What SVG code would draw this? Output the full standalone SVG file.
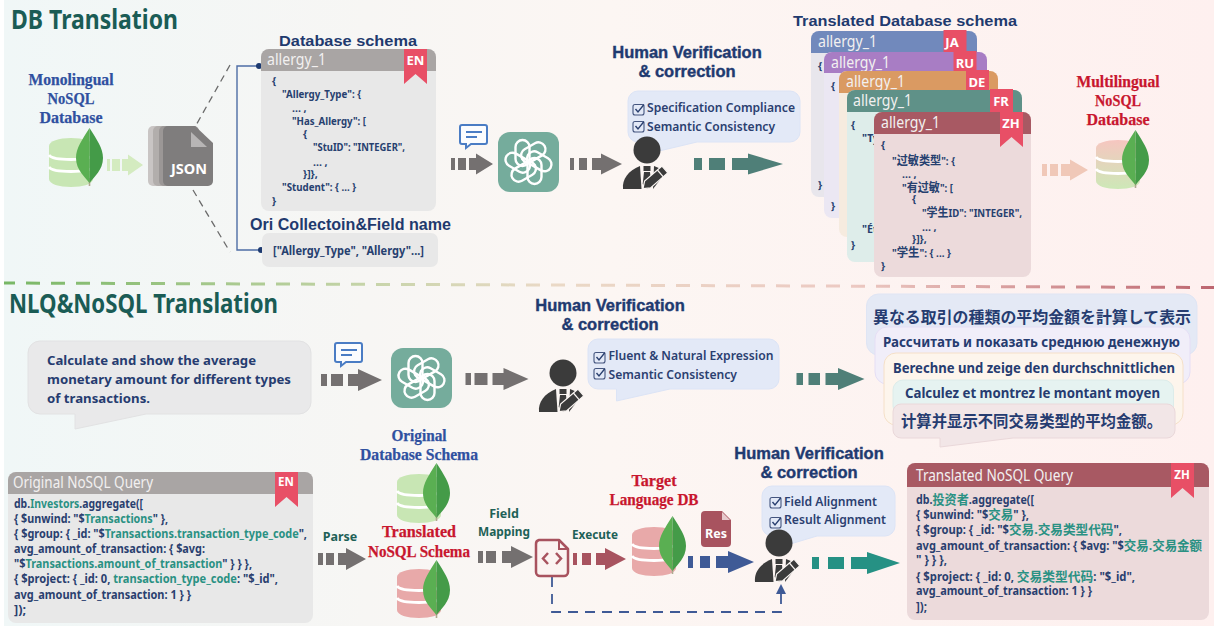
<svg xmlns="http://www.w3.org/2000/svg" width="1214" height="626" viewBox="0 0 1214 626">
<style>
text{font-family:"Noto Sans","Noto Sans CJK SC",sans-serif}
.title{font-weight:700;font-size:26px;fill:#1a5c55}
.serif{font-family:"Liberation Serif",serif;font-weight:700;font-size:16.5px;text-anchor:middle;stroke-width:.25px}
.blue{fill:#2f50a0;stroke:#2f50a0}.red{fill:#c8162e;stroke:#c8162e}
.hv{font-family:"Liberation Sans",sans-serif;font-weight:700;font-size:16.5px;fill:#1f3a70;stroke:#1f3a70;stroke-width:.4px;text-anchor:middle}
.head{font-family:"Liberation Sans",sans-serif;font-weight:700;fill:#1f3a6e}
.code{font-weight:700;font-size:10.5px;fill:#26406f}
.q{font-weight:700;font-size:11.5px;fill:#2a3f6f}
.t{fill:#2a9183}
.z{font-size:13px}
.y{font-size:12px}
.hdr{font-size:15.5px;fill:#f2f0f0}
.rl{font-weight:700;font-size:13px;fill:#fff;text-anchor:middle}
.chk{font-weight:600;font-size:13px;fill:#2b4070}
.lab{font-weight:700;font-size:12.5px;fill:#1e6157;text-anchor:middle}
.nl{font-weight:700;font-size:13px;fill:#263c70}
.tr{font-weight:700;font-size:13.5px;fill:#263c70}
.cjk{font-family:"Noto Sans CJK JP",sans-serif;font-weight:700;font-size:16px;fill:#263c70}
.body{fill:#e8e8e8}
.bub{fill:#e3e9f7;stroke:#dce4f6;stroke-width:1}
</style>
<defs>
<linearGradient id="bg" x1="0" y1="0" x2="1" y2="0"><stop offset="0" stop-color="#f0f7f7"/><stop offset=".3" stop-color="#f7f6f4"/><stop offset=".5" stop-color="#fcf6f3"/><stop offset="1" stop-color="#fef0ef"/></linearGradient>
<linearGradient id="dv" gradientUnits="userSpaceOnUse" x1="4" y1="0" x2="1214" y2="0"><stop offset="0" stop-color="#78b765"/><stop offset=".3" stop-color="#c6d4a9"/><stop offset=".45" stop-color="#ead9c6"/><stop offset=".7" stop-color="#ecc9c2"/><stop offset="1" stop-color="#bd6670"/></linearGradient>
<linearGradient id="mix" x1="0" y1="0" x2="0" y2="1"><stop offset="0" stop-color="#f6c6c0"/><stop offset="1" stop-color="#cde8b7"/></linearGradient>
<g id="cyl"><path d="M0 8C0 3 10 0 22 0S44 3 44 8V41C44 46 34 49 22 49S0 46 0 41Z"/><path d="M0 17C4 23 40 23 44 17M0 29C4 35 40 35 44 29" fill="none" stroke="#fff" stroke-width="3"/></g>
<g id="leaf"><path d="M13.5 58V50" stroke="#b0a890" stroke-width="1.6"/><path d="M13.5 0C6 12 0 20 0 30C0 42 9 49 13.5 55Z" fill="#5aaf52"/><path d="M13.5 0C21 12 27 20 27 30C27 42 18 49 13.5 55Z" fill="#449b48"/></g>
<g id="gpt"><rect width="61" height="60" rx="12" fill="#75ac9c"/><g transform="translate(30.5 30)" fill="none" stroke="#fff" stroke-width="2.4"><rect x="-13" y="-22" width="14" height="26" rx="7"/><rect x="-13" y="-22" width="14" height="26" rx="7" transform="rotate(60)"/><rect x="-13" y="-22" width="14" height="26" rx="7" transform="rotate(120)"/><rect x="-13" y="-22" width="14" height="26" rx="7" transform="rotate(180)"/><rect x="-13" y="-22" width="14" height="26" rx="7" transform="rotate(240)"/><rect x="-13" y="-22" width="14" height="26" rx="7" transform="rotate(300)"/></g></g>
<g id="chat"><path d="M3 1H26a2 2 0 0 1 2 2V18a2 2 0 0 1-2 2H12L7 24V20H3a2 2 0 0 1-2-2V3A2 2 0 0 1 3 1Z" fill="#fbfcfe" stroke="#4a7cc4" stroke-width="2"/><path d="M7 8H23M7 13H18" stroke="#4a7cc4" stroke-width="2" fill="none"/></g>
<g id="person"><circle r="13.5" fill="#3b3b3b"/><path d="M-24 39C-25 29-19 21-7 16L-5.500 39Z" fill="#3b3b3b"/><path d="M7 16C12 18 16 20 19 22L6 39Z" fill="#3b3b3b"/><path d="M-3.500 16H3.500V21H-3.500ZM-3 22H3L4.300 34L0 39L-4.300 34Z" fill="#3b3b3b"/><g transform="translate(-4 38.500) rotate(-41)"><path d="M0 0L6-4.500H28a1 1 0 0 1 1 1V3.500a1 1 0 0 1-1 1H6Z" fill="#3b3b3b" stroke="#fbf6f3" stroke-width="1.200"/><path d="M23-4.500V4.500" stroke="#fbf6f3" stroke-width="1.200"/></g></g>
<g id="chk"><rect x="0" y="1" width="11" height="10.500" rx="2" fill="none" stroke="#44557f" stroke-width="1.100"/><path d="M2.500 5.500L5 8.500L11 1" fill="none" stroke="#2b4070" stroke-width="1.400"/></g>
<path id="rib" d="M0 0H23V35L11.500 25L0 35Z" fill="#e84f66"/>
</defs>
<rect x="4" y="0" width="1210" height="626" fill="url(#bg)"/>
<g id="connectors">
<line x1="4" y1="283" x2="1214" y2="287.500" stroke="url(#dv)" stroke-width="3" stroke-dasharray="14 11" stroke-dashoffset="3"/>
<path d="M230 65L195 127M193 190L230 252" fill="none" stroke="#6b6b6b" stroke-width="1.300" stroke-dasharray="7 5"/>
<path d="M259 66H237V250H261" fill="none" stroke="#4e6da5" stroke-width="1.400"/>
<circle cx="259" cy="66" r="3" fill="#1d3a70"/><circle cx="261" cy="250" r="3" fill="#1d3a70"/>
<path transform="translate(107 165)" fill="#d4ebc0" d="M0-6h3v12h-3zM5-6h8v12h-8zM15-6h6v-4.500l15 10.500l-15 10.500v-4.500h-6z"/>
<path transform="translate(451 164)" fill="#747070" d="M0-6h4v12h-4zM7-6h8v12h-8zM18-6h7v-4.500l17 10.500l-17 10.500v-4.500h-7z"/>
<path transform="translate(570 164)" fill="#747070" d="M0-6h4v12h-4zM9-6h8v12h-8zM22-6h9v-4.500l21 10.500l-21 10.500v-4.500h-9z"/>
<path transform="translate(694 164)" fill="#4f7f78" d="M0-6h8v12h-8zM15-6h16v12h-16zM38-6h16v-4.500l35 10.500l-35 10.500v-4.500h-16z"/>
<path transform="translate(1042 170)" fill="#f0c8b8" d="M0-6h5v12h-5zM8-6h8v12h-8zM19-6h9v-4.500l18 10.500l-18 10.500v-4.500h-9z"/>
<path transform="translate(321 380)" fill="#747070" d="M0-6h6v12h-6zM10-6h12v12h-12zM27-6h10v-5l24 11l-24 11v-5h-10z"/>
<path transform="translate(465.500 379)" fill="#747070" d="M0-6h5.500v12h-5.500zM9-6h13v12h-13zM27-6h11v-5l25 11l-25 11v-5h-11z"/>
<path transform="translate(796.500 379)" fill="#4f7f78" d="M0-6h6.500v12h-6.500zM12-6h11.500v12h-11.500zM29-6h12.500v-5l26.500 11l-26.500 11v-5h-12.500z"/>
<path transform="translate(318 559)" fill="#747070" d="M0-6h5v12h-5zM8-6h8v12h-8zM20-6h8v-5l20 11l-20 11v-5h-8z"/>
<path transform="translate(478 557)" fill="#747070" d="M0-6h5v12h-5zM8-6h10v12h-10zM24-6h9v-5l22 11l-22 11v-5h-9z"/>
<path transform="translate(573 559)" fill="#a8535f" d="M0-6h4v12h-4zM9-6h9v12h-9zM23-6h9v-5l21 11l-21 11v-5h-9z"/>
<path transform="translate(688 562)" fill="#3f5a96" d="M0-6h5v12h-5zM12-6h10v12h-10zM28-6h12v-5l26 11l-26 11v-5h-12z"/>
<path transform="translate(812 563)" fill="#269184" d="M0-6h7v12h-7zM16-6h16v12h-16zM39-6h16v-5l33 11l-33 11v-5h-16z"/>
<path d="M552 577V612H781V593" fill="none" stroke="#3f5a96" stroke-width="1.800" stroke-dasharray="10 7"/>
<path d="M781 584L776 594H786Z" fill="#3f5a96"/>
</g>
<text class="title" x="11" y="29" textLength="167" lengthAdjust="spacingAndGlyphs">DB Translation</text>
<text class="title" x="9" y="313" textLength="269" lengthAdjust="spacingAndGlyphs">NLQ&amp;NoSQL Translation</text>

<g id="monolingual-db">
<text class="serif blue" x="71" y="85" textLength="85" lengthAdjust="spacingAndGlyphs">Monolingual</text><text class="serif blue" x="71" y="104" textLength="47" lengthAdjust="spacingAndGlyphs">NoSQL</text><text class="serif blue" x="71" y="123" textLength="63" lengthAdjust="spacingAndGlyphs">Database</text>
<use href="#cyl" x="49" y="138" fill="#c8e6b4"/><use href="#leaf" x="76" y="128"/>
</g>
<g id="json">
<rect x="148" y="126" width="40" height="60" rx="5" fill="#c9c5c4"/><rect x="153" y="126" width="40" height="60" rx="5" fill="#b2aeac"/><rect x="159" y="126" width="40" height="60" rx="5" fill="#9b9796"/>
<path d="M168 126H195L213 143V181a5 5 0 0 1-5 5H168a5 5 0 0 1-5-5V131a5 5 0 0 1 5-5Z" fill="#7f7d7d"/>
<path d="M191 132V147H207Z" fill="#b7b5b5"/>
<text x="189" y="174" font-weight="700" font-size="13.500" fill="#fff" text-anchor="middle" textLength="36" lengthAdjust="spacingAndGlyphs">JSON</text>
</g>
<g id="schema-en">
<text class="head" x="279" y="46" font-size="15" textLength="138" lengthAdjust="spacingAndGlyphs">Database schema</text>
<rect class="body" x="261" y="49" width="175" height="162" rx="8"/>
<path d="M261 71V57a8 8 0 0 1 8-8H428a8 8 0 0 1 8 8V71Z" fill="#a9a5a4"/>
<text class="hdr" x="267" y="65" textLength="59" lengthAdjust="spacingAndGlyphs">allergy_1</text>
<use href="#rib" x="404" y="49"/><text class="rl" x="415.500" y="65">EN</text>
<text class="code" x="272" y="85">{</text>
<text class="code" x="282" y="98" textLength="79" lengthAdjust="spacingAndGlyphs">"Allergy_Type": {</text>
<text class="code" x="292" y="112">... ,</text>
<text class="code" x="292" y="125" textLength="74" lengthAdjust="spacingAndGlyphs">"Has_Allergy": [</text>
<text class="code" x="303" y="138">{</text>
<text class="code" x="313" y="151" textLength="92" lengthAdjust="spacingAndGlyphs">"StuID": "INTEGER",</text>
<text class="code" x="313" y="166">... ,</text>
<text class="code" x="303" y="178">}]},</text>
<text class="code" x="282" y="191" textLength="74" lengthAdjust="spacingAndGlyphs">"Student": { ... }</text>
<text class="code" x="272" y="205">}</text>
</g>
<g id="field-names">
<text class="head" x="250" y="230" font-size="16" textLength="201" lengthAdjust="spacingAndGlyphs">Ori Collectoin&amp;Field name</text>
<rect class="body" x="262" y="233" width="176" height="34" rx="7"/>
<text class="code" x="273" y="255" style="font-size:11.500px" textLength="151" lengthAdjust="spacingAndGlyphs">["Allergy_Type", "Allergy"...]</text>
</g>
<g id="chat-1"><use href="#chat" x="459" y="124"/></g>
<g id="gpt-1"><use href="#gpt" x="498" y="132"/></g>
<g id="verify-1">
<text class="hv" x="687" y="58">Human Verification</text><text class="hv" x="687" y="77">&amp; correction</text>
<path class="bub" d="M638 91H790a10 10 0 0 1 10 10V132a10 10 0 0 1-10 10H697L655 152L650 142H638a10 10 0 0 1-10-10V101a10 10 0 0 1 10-10Z"/>
<use href="#chk" x="633" y="103.500"/><use href="#chk" x="633" y="120.500"/>
<text class="chk" x="647" y="112" textLength="148" lengthAdjust="spacingAndGlyphs">Specification Compliance</text>
<text class="chk" x="647" y="131" textLength="128" lengthAdjust="spacingAndGlyphs">Semantic Consistency</text>
<use href="#person" x="647" y="150"/>
</g>
<g id="translated-schemas">
<text class="head" x="793" y="26" font-size="15" textLength="224" lengthAdjust="spacingAndGlyphs">Translated Database schema</text>
<g id="schema-ja"><rect x="811" y="31" width="166" height="166" rx="8" fill="#e8e6ec"/><path d="M811 53V39a8 8 0 0 1 8-8H969a8 8 0 0 1 8 8V53Z" fill="#7189bc"/><text class="hdr" x="818" y="47" textLength="59" lengthAdjust="spacingAndGlyphs">allergy_1</text><use href="#rib" x="943.500" y="30"/><text class="rl" x="952" y="47">JA</text><text class="code" x="818" y="70">{</text><text class="code" x="818" y="189">}</text></g>
<g id="schema-ru"><rect x="824" y="52" width="163" height="166" rx="8" fill="#ebe7f3"/><path d="M824 73V60a8 8 0 0 1 8-8H979a8 8 0 0 1 8 8V73Z" fill="#a87dc4"/><text class="hdr" x="831" y="68" textLength="59" lengthAdjust="spacingAndGlyphs">allergy_1</text><use href="#rib" x="953.500" y="51"/><text class="rl" x="965" y="68">RU</text><text class="code" x="831" y="90">{</text><text class="code" x="831" y="210">}</text></g>
<g id="schema-de"><rect x="839" y="71" width="159" height="166" rx="8" fill="#f6ebdf"/><path d="M839 93V79a8 8 0 0 1 8-8H990a8 8 0 0 1 8 8V93Z" fill="#da9a62"/><text class="hdr" x="846" y="87" textLength="59" lengthAdjust="spacingAndGlyphs">allergy_1</text><use href="#rib" x="966" y="70"/><text class="rl" x="977" y="87">DE</text></g>
<g id="schema-fr"><rect x="847" y="90" width="175" height="172" rx="8" fill="#deedea"/><path d="M847 112V98a8 8 0 0 1 8-8H1014a8 8 0 0 1 8 8V112Z" fill="#5f9188"/><text class="hdr" x="853" y="106" textLength="59" lengthAdjust="spacingAndGlyphs">allergy_1</text><use href="#rib" x="990" y="89"/><text class="rl" x="1001" y="106">FR</text><text class="code" x="851" y="129">{</text><text class="code" x="862" y="142">"Ty</text><text class="code" x="862" y="233">"Ét</text><text class="code" x="851" y="249">}</text></g>
<g id="schema-zh"><rect x="874" y="112" width="157" height="165" rx="8" fill="#ecdadb"/><path d="M874 134V120a8 8 0 0 1 8-8H1023a8 8 0 0 1 8 8V134Z" fill="#a85963"/><text class="hdr" x="881" y="128" textLength="59" lengthAdjust="spacingAndGlyphs">allergy_1</text><use href="#rib" x="1000" y="112"/><text class="rl" x="1011" y="128">ZH</text>
<text class="code" x="881" y="149">{</text>
<text class="code" x="892" y="165" textLength="63" lengthAdjust="spacingAndGlyphs">"<tspan class="y">过敏类型</tspan>": {</text>
<text class="code" x="902" y="178">... ,</text>
<text class="code" x="902" y="192" textLength="51" lengthAdjust="spacingAndGlyphs">"<tspan class="y">有过敏</tspan>": [</text>
<text class="code" x="912" y="203">{</text>
<text class="code" x="922" y="217" textLength="100" lengthAdjust="spacingAndGlyphs">"<tspan class="y">学生</tspan>ID": "INTEGER",</text>
<text class="code" x="922" y="231">... ,</text>
<text class="code" x="912" y="243">}]},</text>
<text class="code" x="892" y="257" textLength="59" lengthAdjust="spacingAndGlyphs">"<tspan class="y">学生</tspan>": { ... }</text>
<text class="code" x="881" y="270">}</text></g>
</g>
<g id="multilingual-db">
<text class="serif red" x="1118" y="87" textLength="83" lengthAdjust="spacingAndGlyphs">Multilingual</text><text class="serif red" x="1118" y="106" textLength="46" lengthAdjust="spacingAndGlyphs">NoSQL</text><text class="serif red" x="1118" y="125" textLength="63" lengthAdjust="spacingAndGlyphs">Database</text>
<use href="#cyl" x="1096" y="140" fill="url(#mix)"/><use href="#leaf" x="1122" y="130"/>
</g>
<g id="nl-question">
<path d="M40 341H299a12 12 0 0 1 12 12V402a12 12 0 0 1-12 12H146L75 429V414H40a12 12 0 0 1-12-12V353a12 12 0 0 1 12-12Z" fill="#e9e9ea" stroke="#e2e2e3"/>
<text class="nl" x="47" y="365" textLength="209" lengthAdjust="spacingAndGlyphs">Calculate and show the average</text>
<text class="nl" x="47" y="384" textLength="244" lengthAdjust="spacingAndGlyphs">monetary amount for different types</text>
<text class="nl" x="47" y="403" textLength="103" lengthAdjust="spacingAndGlyphs">of transactions.</text>
</g>
<g id="chat-2"><use href="#chat" x="334" y="342"/></g>
<g id="gpt-2"><use href="#gpt" x="391" y="348"/></g>
<g id="verify-2">
<text class="hv" x="610" y="311">Human Verification</text><text class="hv" x="610" y="330">&amp; correction</text>
<path class="bub" d="M598 339H769a10 10 0 0 1 10 10V379a10 10 0 0 1-10 10H670L616.500 401V389H598a10 10 0 0 1-10-10V349a10 10 0 0 1 10-10Z"/>
<use href="#chk" x="594" y="351.500"/><use href="#chk" x="594" y="367.500"/>
<text class="chk" x="608.500" y="360" textLength="165" lengthAdjust="spacingAndGlyphs">Fluent &amp; Natural Expression</text>
<text class="chk" x="608.500" y="379" textLength="128.500" lengthAdjust="spacingAndGlyphs">Semantic Consistency</text>
<use href="#person" x="563" y="373"/>
</g>
<g id="multilang-questions">
<g id="q-ja"><rect x="866.500" y="294" width="330.500" height="61" rx="12" fill="#e4e9f5" stroke="#dfe5f4"/><text class="cjk" x="873" y="323" textLength="318" lengthAdjust="spacingAndGlyphs">異なる取引の種類の平均金額を計算して表示</text></g>
<g id="q-ru"><rect x="875" y="327" width="315" height="57" rx="12" fill="#f1eef9" stroke="#e5def5"/><text class="tr" x="883" y="347" textLength="297" lengthAdjust="spacingAndGlyphs">Рассчитать и показать среднюю денежную</text></g>
<g id="q-de"><rect x="884" y="353" width="299" height="72" rx="12" fill="#fdf5ec" stroke="#f5e0c8"/><text class="tr" x="893" y="373" textLength="282" lengthAdjust="spacingAndGlyphs">Berechne und zeige den durchschnittlichen</text></g>
<g id="q-fr"><rect x="893" y="380" width="280.500" height="36" rx="10" fill="#e6f3f1" stroke="#dcecea"/><text class="tr" x="905" y="398" textLength="255" lengthAdjust="spacingAndGlyphs">Calculez et montrez le montant moyen</text></g>
<g id="q-zh"><path d="M901 404H1167a8 8 0 0 1 8 8V430a8 8 0 0 1-8 8H1013L940 447V438H901a8 8 0 0 1-8-8V412a8 8 0 0 1 8-8Z" fill="#f2e6e7" stroke="#ead8da"/><text class="cjk" x="901" y="427" textLength="261" lengthAdjust="spacingAndGlyphs" style="font-family:'Noto Sans CJK SC',sans-serif">计算并显示不同交易类型的平均金额。</text></g>
</g>
<g id="original-query">
<rect class="body" x="8" y="472" width="305" height="151" rx="8"/>
<path d="M8 494V480a8 8 0 0 1 8-8H305a8 8 0 0 1 8 8V494Z" fill="#a9a5a4"/>
<text class="hdr" x="13" y="488" textLength="140" lengthAdjust="spacingAndGlyphs">Original NoSQL Query</text>
<use href="#rib" x="275" y="472"/><text class="rl" x="286" y="486" style="font-size:11.500px">EN</text>
<text class="q" x="14" y="508" textLength="129" lengthAdjust="spacingAndGlyphs">db.<tspan class="t">Investors</tspan>.aggregate([</text>
<text class="q" x="14" y="523" textLength="154" lengthAdjust="spacingAndGlyphs">{ $unwind: "$<tspan class="t">Transactions</tspan>" },</text>
<text class="q" x="14" y="538" textLength="293" lengthAdjust="spacingAndGlyphs">{ $group: { _id: "$<tspan class="t">Transactions.transaction_type_code</tspan>",</text>
<text class="q" x="14" y="553" textLength="191" lengthAdjust="spacingAndGlyphs">avg_amount_of_transaction: { $avg:</text>
<text class="q" x="14" y="568" textLength="238" lengthAdjust="spacingAndGlyphs">"$<tspan class="t">Transactions.amount_of_transaction</tspan>" } } },</text>
<text class="q" x="14" y="583" textLength="264" lengthAdjust="spacingAndGlyphs">{ $project: { _id: 0, <tspan class="t">transaction_type_code</tspan>: "$_id",</text>
<text class="q" x="14" y="599" textLength="177" lengthAdjust="spacingAndGlyphs">avg_amount_of_transaction: 1 } }</text>
<text class="q" x="14" y="614" textLength="12" lengthAdjust="spacingAndGlyphs">]);</text>
</g>
<text class="lab" x="340" y="541">Parse</text>
<g id="original-db">
<text class="serif blue" x="419" y="441" textLength="55" lengthAdjust="spacingAndGlyphs">Original</text><text class="serif blue" x="419" y="460" textLength="118" lengthAdjust="spacingAndGlyphs">Database Schema</text>
<use href="#cyl" x="397" y="474" fill="#c8e6b4"/><use href="#leaf" x="423" y="463"/>
</g>
<g id="translated-db">
<text class="serif red" x="419" y="537" textLength="74" lengthAdjust="spacingAndGlyphs">Translated</text><text class="serif red" x="419" y="557" textLength="102" lengthAdjust="spacingAndGlyphs">NoSQL Schema</text>
<use href="#cyl" x="397" y="569" fill="#e8a9a9"/><use href="#leaf" x="423" y="560"/>
</g>
<text class="lab" x="504" y="518">Field</text><text class="lab" x="504" y="536" textLength="52" lengthAdjust="spacingAndGlyphs">Mapping</text>
<g id="code-file">
<path d="M539 540H559L568 549V572a4 4 0 0 1-4 4H540a4 4 0 0 1-4-4V544a4 4 0 0 1 3-4Z" fill="#fbf3f1" stroke="#a8525e" stroke-width="2.500" stroke-linejoin="round"/>
<path d="M559 540V549H568" fill="none" stroke="#a8525e" stroke-width="2"/>
<path d="M548 553L543 558.500L548 564M556 553L561 558.500L556 564" fill="none" stroke="#a8525e" stroke-width="2.500"/>
</g>
<text class="lab" x="595" y="539" textLength="46" lengthAdjust="spacingAndGlyphs">Execute</text>
<g id="target-db">
<text class="serif red" x="654" y="486" textLength="45" lengthAdjust="spacingAndGlyphs">Target</text><text class="serif red" x="654" y="505" textLength="89" lengthAdjust="spacingAndGlyphs">Language DB</text>
<use href="#cyl" x="632" y="527" fill="#e8a9a9"/><use href="#leaf" x="659" y="516"/>
</g>
<g id="res-file">
<path d="M705 511H722L731 520V543a4 4 0 0 1-4 4H705a4 4 0 0 1-4-4V515a4 4 0 0 1 4-4Z" fill="#a8535f"/>
<path d="M722 512V520H730Z" fill="#e6c9cc"/>
<text x="716" y="538" font-weight="700" font-size="12.500" fill="#fff" text-anchor="middle">Res</text>
</g>
<g id="verify-3">
<text class="hv" x="809" y="459">Human Verification</text><text class="hv" x="809" y="478">&amp; correction</text>
<path class="bub" d="M772 486H885a10 10 0 0 1 10 10V526a10 10 0 0 1-10 10H817L787 545L778 536H772a10 10 0 0 1-10-10V496a10 10 0 0 1 10-10Z"/>
<use href="#chk" x="770" y="496.500"/><use href="#chk" x="770" y="516.500"/>
<text class="chk" x="784" y="506" textLength="93" lengthAdjust="spacingAndGlyphs">Field Alignment</text>
<text class="chk" x="784" y="524" textLength="102" lengthAdjust="spacingAndGlyphs">Result Alignment</text>
<use href="#person" x="779" y="543"/>
</g>
<g id="translated-query">
<rect x="907" y="463" width="302" height="157" rx="8" fill="#ecdadb"/>
<path d="M907 487V471a8 8 0 0 1 8-8H1201a8 8 0 0 1 8 8V487Z" fill="#a85963"/>
<text class="hdr" x="916" y="481" textLength="157" lengthAdjust="spacingAndGlyphs">Translated NoSQL Query</text>
<use href="#rib" x="1171" y="463"/><text class="rl" x="1182" y="479" style="font-size:11.500px">ZH</text>
<text class="q" x="916" y="504" textLength="118" lengthAdjust="spacingAndGlyphs">db.<tspan class="t z">投资者</tspan>.aggregate([</text>
<text class="q" x="916" y="519" textLength="113" lengthAdjust="spacingAndGlyphs">{ $unwind: "$<tspan class="t z">交易</tspan>" },</text>
<text class="q" x="916" y="534" textLength="206" lengthAdjust="spacingAndGlyphs">{ $group: { _id: "$<tspan class="t z">交易.交易类型代码</tspan>",</text>
<text class="q" x="916" y="550" textLength="286" lengthAdjust="spacingAndGlyphs">avg_amount_of_transaction: { $avg: "$<tspan class="t z">交易.交易金额</tspan></text>
<text class="q" x="916" y="564" textLength="31" lengthAdjust="spacingAndGlyphs">" } } },</text>
<text class="q" x="916" y="581" textLength="219" lengthAdjust="spacingAndGlyphs">{ $project: { _id: 0, <tspan class="t z">交易类型代码</tspan>: "$_id",</text>
<text class="q" x="916" y="595" textLength="176" lengthAdjust="spacingAndGlyphs">avg_amount_of_transaction: 1 } }</text>
<text class="q" x="916" y="611" textLength="11" lengthAdjust="spacingAndGlyphs">]);</text>
</g>
</svg>
